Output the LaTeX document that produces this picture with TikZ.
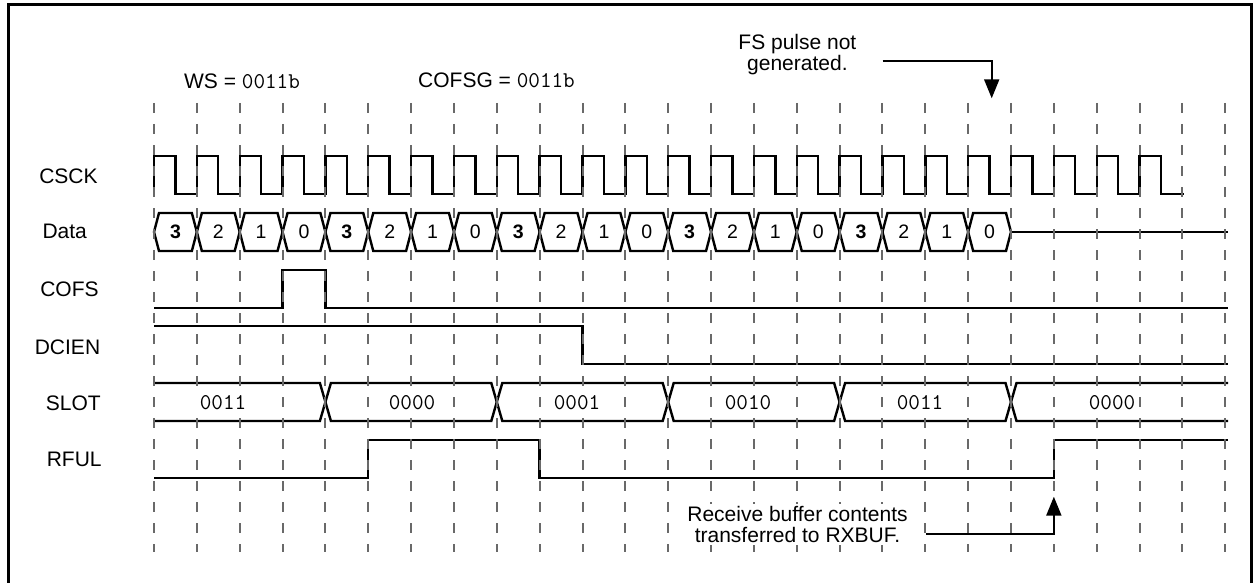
\documentclass[tikz,border=0pt]{standalone}
\usepackage{fontspec}
\setmainfont{Liberation Sans}
\usetikzlibrary{arrows.meta}

\begin{document}
\begin{tikzpicture}[x=1pt,y=-1pt,line width=2.4pt,
  sig/.style={draw=black,line width=2.4pt,line join=miter},
  gridline/.style={draw=gridgrey,line width=2pt,dash pattern=on 10pt off 11pt},
  rowlab/.style={anchor=base,inner sep=0pt,font=\flab},
  slotval/.style={anchor=base,fill=white,inner xsep=3pt,inner ysep=4pt,font=\fmono},
  note/.style={anchor=north,align=center,inner sep=0pt},
  callout/.style={draw=black,line width=2pt,-{Triangle[width=15pt,length=19pt]}}]
\definecolor{gridgrey}{RGB}{105,105,105}
\providecommand{\flab}{\fontsize{21}{23}\selectfont}
\providecommand{\fdig}{\fontsize{19.5}{21}\selectfont}
\providecommand{\fmono}{\fontsize{22.5}{24}\selectfont\ttfamily}
\useasboundingbox (0,0) rectangle (1255,583);
\draw[line width=2.7pt] (8.7,583) -- (8.7,4.5) -- (1251.5,4.5) -- (1251.5,583);
% row labels
\node[rowlab] (lcsck) at (68.5,183.5) {CSCK};
\node[rowlab] (ldata) at (64.7,238.0) {Data};
\node[rowlab] (lcofs) at (69.5,296.0) {COFS};
\node[rowlab] (ldcien) at (67.5,354.0) {DCIEN};
\node[rowlab] (lslot) at (73.3,410.0) {SLOT};
\node[rowlab] (lrful) at (74.2,466.0) {RFUL};
% settings above the grid
\node[rowlab] (wsset) at (242.0,88.3) {WS = {\fmono 0011b}};
\node[rowlab] (cofsgset) at (496.5,88.0) {COFSG = {\fmono 0011b}};
% CSCK
\draw[sig] (154,194) \foreach \i in {0,...,23} {
  -- ({154+42.85*\i},194) -- ({154+42.85*\i},156)
  -- ({175.43+42.85*\i},156) -- ({175.43+42.85*\i},194)} -- (1184,194);
% Data words
\foreach \i [evaluate=\i as \d using {int(3-mod(\i,4))}] in {0,...,19} {
  \draw[sig] ({154+42.85*\i},232) -- ({159+42.85*\i},213) -- ({191.85+42.85*\i},213)
    -- ({196.85+42.85*\i},232) -- ({191.85+42.85*\i},251) -- ({159+42.85*\i},251) -- cycle;
  \node[anchor=base,inner sep=0pt,font=\fdig] (d\i) at ({175.43+42.85*\i},238.3)
    {\ifnum\d=3 \bfseries\fi\d};
}
\draw[sig] (1011.0,232) -- (1228,232);
% COFS
\draw[sig] (154,308) -- (282.55,308) -- (282.55,270) -- (325.4,270) -- (325.4,308) -- (1228,308);
% DCIEN
\draw[sig] (154,326) -- (582.5,326) -- (582.5,364) -- (1228,364);
% SLOT
\draw[sig] (154,383) -- (319.9,383) -- (330.9,421) -- (491.3,421) -- (502.3,383)
  -- (662.7,383) -- (673.7,421) -- (834.1,421) -- (845.1,383) -- (1005.5,383)
  -- (1016.5,421) -- (1228,421);
\draw[sig] (154,421) -- (319.9,421) -- (330.9,383) -- (491.3,383) -- (502.3,421)
  -- (662.7,421) -- (673.7,383) -- (834.1,383) -- (845.1,421) -- (1005.5,421)
  -- (1016.5,383) -- (1228,383);
% RFUL
\draw[sig] (154,478) -- (368.25,478) -- (368.25,440) -- (539.65,440) -- (539.65,478)
  -- (1053.85,478) -- (1053.85,440) -- (1228,440);
% grid
\foreach \i in {0,...,25}
  \draw[gridline] ({154+42.85*\i},103) -- ({154+42.85*\i},552);
% slot values
\node[slotval,inner xsep=5pt] (s1) at (223,409.5) {0011};
\node[slotval] (s2) at (412,409.5) {0000};
\node[slotval] (s3) at (577,409.5) {0001};
\node[slotval] (s4) at (748,409.5) {0010};
\node[slotval] (s5) at (920,409.5) {0011};
\node[slotval] (s6) at (1112,409.5) {0000};
% notes
\node[note,font=\fontsize{21}{19}\selectfont] (fsnote) at (797.4,33.3) {FS pulse not\\generated.};
\coordinate (fsfrom) at (882.7,61.3);
\coordinate (fsto) at (991.7,98.3);
\draw[callout] (fsfrom) -| (fsto);
\node[note,fill=white,inner ysep=2pt,font=\fontsize{21}{21}\selectfont] (rxnote) at (797.5,503.0) {Receive buffer contents\\transferred to RXBUF.};
\coordinate (rxfrom) at (926.0,534.0);
\coordinate (rxto) at (1053.85,496.7);
\draw[callout] (rxfrom) -| (rxto);
\end{tikzpicture}
\end{document}
